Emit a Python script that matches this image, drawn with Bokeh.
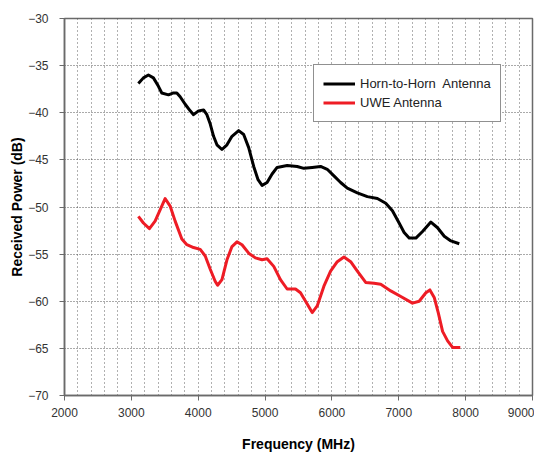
from bokeh.plotting import figure
from bokeh.models import Range1d, SingleIntervalTicker, FixedTicker, Legend, LegendItem
from bokeh.embed import file_html
from bokeh.resources import INLINE

# Horn-to-Horn antenna (black)
horn_freq = [3105, 3180, 3255, 3330, 3405, 3455, 3555, 3630, 3680, 3730, 3805, 3880,
             3930, 4005, 4080, 4130, 4180, 4230, 4280, 4355, 4430, 4505, 4605, 4680,
             4755, 4830, 4895, 4955, 5030, 5105, 5180, 5330, 5480, 5580, 5705, 5830,
             5930, 6030, 6130, 6230, 6380, 6530, 6680, 6805, 6905, 7005, 7080, 7155,
             7255, 7355, 7480, 7580, 7680, 7780, 7905]
horn_power = [-36.9, -36.3, -36.0, -36.3, -37.2, -37.9, -38.1, -37.9, -37.9, -38.3, -39.1, -39.8,
              -40.2, -39.8, -39.7, -40.2, -41.2, -42.5, -43.4, -43.9, -43.4, -42.5, -41.9, -42.3,
              -43.7, -45.7, -47.1, -47.7, -47.4, -46.5, -45.8, -45.6, -45.7, -45.9, -45.8, -45.7,
              -46.0, -46.7, -47.4, -48.0, -48.5, -48.9, -49.1, -49.6, -50.4, -51.7, -52.7, -53.3,
              -53.3, -52.6, -51.6, -52.2, -53.1, -53.6, -53.9]

# UWE antenna (red)
uwe_freq = [3105, 3180, 3270, 3355, 3430, 3505, 3580, 3655, 3755, 3830, 3930, 4030,
            4105, 4180, 4255, 4290, 4355, 4430, 4505, 4580, 4655, 4755, 4855, 4955,
            5030, 5130, 5230, 5330, 5455, 5530, 5630, 5705, 5780, 5880, 5980, 6080,
            6180, 6280, 6380, 6505, 6630, 6730, 6880, 7030, 7205, 7305, 7405, 7465,
            7530, 7590, 7655, 7730, 7805, 7920]
uwe_power = [-51.0, -51.7, -52.3, -51.5, -50.3, -49.1, -49.9, -51.5, -53.4, -54.0, -54.3, -54.5,
             -55.2, -56.6, -57.9, -58.3, -57.7, -55.6, -54.2, -53.7, -54.0, -54.9, -55.4, -55.6,
             -55.5, -56.3, -57.7, -58.7, -58.7, -59.1, -60.3, -61.2, -60.5, -58.4, -56.8, -55.8,
             -55.3, -55.8, -56.8, -58.0, -58.1, -58.2, -58.9, -59.5, -60.2, -60.0, -59.1, -58.8,
             -59.6, -61.2, -63.2, -64.2, -64.9, -64.9]

x_ticks = [2000, 3000, 4000, 5000, 6000, 7000, 8000, 9000]
y_ticks = [-70, -65, -60, -55, -50, -45, -40, -35, -30]
series_names = ["Horn-to-Horn  Antenna", "UWE Antenna"]

p = figure(width=534, height=455, output_backend="svg", toolbar_location=None,
           x_range=Range1d(2000, 9000), y_range=Range1d(-70, -30),
           min_border_left=64, min_border_right=2, min_border_top=18, min_border_bottom=60)
p.background_fill_color = "white"
p.border_fill_color = "white"
p.outline_line_color = "#6a6a6a"
p.outline_line_width = 1.5

FONT = "Liberation Sans"
for ax in (p.xaxis[0], p.yaxis[0]):
    ax.axis_line_color = "#6a6a6a"
    ax.axis_line_width = 1.5
    ax.major_tick_line_color = "#6a6a6a"
    ax.major_tick_in = 0
    ax.major_tick_out = 5
    ax.minor_tick_in = 0
    ax.minor_tick_out = 0
    ax.major_label_text_font = FONT
    ax.major_label_text_font_size = "12px"
    ax.major_label_text_color = "#333333"
    ax.axis_label_text_font = FONT
    ax.axis_label_text_font_size = "14px"
    ax.axis_label_text_font_style = "bold"
    ax.axis_label_text_color = "black"

p.xaxis.ticker = FixedTicker(ticks=x_ticks)
p.yaxis.ticker = FixedTicker(ticks=y_ticks)
p.xaxis.axis_label = "Frequency (MHz)"
p.yaxis.axis_label = "Received Power (dB)"
p.xaxis.major_label_standoff = 7
p.xaxis.axis_label_standoff = 16
p.yaxis.major_label_standoff = 11
p.yaxis.axis_label_standoff = 0

p.xgrid.ticker = SingleIntervalTicker(interval=200)
p.xgrid.grid_line_color = "#444444"
p.xgrid.grid_line_dash = "1 3"
p.xgrid.grid_line_alpha = 0.85
p.xgrid.grid_line_width = 1
p.ygrid.ticker = FixedTicker(ticks=y_ticks)
p.ygrid.grid_line_color = "#444444"
p.ygrid.grid_line_dash = "1 2"
p.ygrid.grid_line_alpha = 0.9
p.ygrid.grid_line_width = 1

r1 = p.line(horn_freq, horn_power, line_color="black", line_width=3, line_join="round")
r2 = p.line(uwe_freq, uwe_power, line_color="#ee1c25", line_width=3, line_join="round")

legend = Legend(items=[LegendItem(label=series_names[0], renderers=[r1]),
                       LegendItem(label=series_names[1], renderers=[r2])],
                location=(249, 273))
legend.border_line_color = "#222222"
legend.border_line_width = 1
legend.background_fill_color = "white"
legend.background_fill_alpha = 1
legend.label_text_font = FONT
legend.label_text_font_size = "13px"
legend.label_text_color = "#222222"
legend.glyph_width = 32
legend.glyph_height = 19
legend.label_height = 19
legend.label_standoff = 5
legend.spacing = 0
legend.padding = 9
legend.margin = 0
p.add_layout(legend, "center")

open("out.html", "w").write(file_html(p, INLINE))
